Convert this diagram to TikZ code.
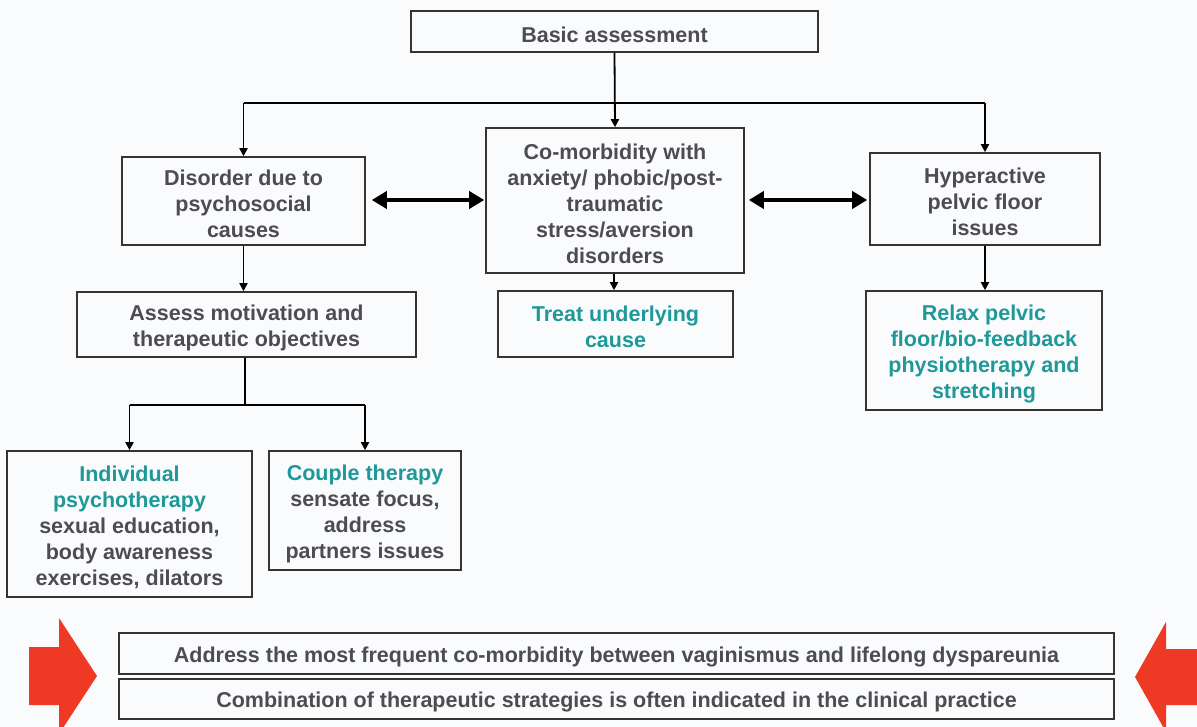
\documentclass[tikz,border=0pt]{standalone}
\usepackage{fontspec}
\setmainfont{Liberation Sans}
\usetikzlibrary{arrows.meta,calc}
\definecolor{inkgray}{RGB}{77,77,79}
\definecolor{tealtxt}{RGB}{30,152,152}
\definecolor{boxline}{RGB}{58,50,48}
\definecolor{bgpaper}{RGB}{250,251,253}
\definecolor{signred}{RGB}{238,58,36}
% tall strut on the first line drops the text block slightly in its box
\newcommand{\toprule}{\rule{0pt}{22pt}}
\tikzset{
  box/.style={draw=boxline, line width=1.6pt, align=center, inner sep=0pt,
    font=\fontsize{21.5}{26}\selectfont\bfseries, text=inkgray},
  teal box/.style={box, text=tealtxt},
  arr/.style={draw=black, line width=1.8pt, -{Triangle[length=8pt,width=8pt]}},
  link/.style={draw=black, line width=1.8pt},
  dbl/.style={draw=black, line width=4.5pt,
    {Triangle[length=15pt,width=17pt]}-{Triangle[length=15pt,width=17pt]}},
  redarrow/.style={fill=signred, draw=none}
}
\begin{document}
\begin{tikzpicture}[x=1pt,y=-1pt]
\fill[bgpaper] (0,0) rectangle (1197,727);
\useasboundingbox (0,0) rectangle (1197,727);

% boxes
\node[box, minimum width=407pt, minimum height=41pt] (basic) at (614.5,31.5) {\toprule Basic assessment};
\node[box, minimum width=243pt, minimum height=88pt] (disorder) at (243.5,201) {\toprule Disorder due to\\psychosocial\\causes};
\node[box, minimum width=258pt, minimum height=145pt] (comorb) at (615,200.5) {\toprule Co-morbidity with\\anxiety/ phobic/post-\\traumatic\\stress/aversion\\disorders};
\node[box, minimum width=230pt, minimum height=92pt] (hyper) at (985,199) {\toprule Hyperactive\\pelvic floor\\issues};
\node[box, minimum width=339pt, minimum height=65pt] (assess) at (246.5,324.5) {\toprule Assess motivation and\\therapeutic objectives};
\node[teal box, minimum width=235pt, minimum height=66pt] (treat) at (615.5,324) {\toprule Treat underlying\\cause};
\node[teal box, minimum width=236pt, minimum height=119pt] (relax) at (984,350.5) {\toprule Relax pelvic\\floor/bio-feedback\\physiotherapy and\\stretching};
\node[box, minimum width=245pt, minimum height=146pt] (indiv) at (129.5,524) {\toprule\textcolor{tealtxt}{Individual}\\\textcolor{tealtxt}{psychotherapy}\\sexual education,\\body awareness\\exercises, dilators};
\node[box, minimum width=192pt, minimum height=119pt] (couple) at (365,510.5) {\toprule\textcolor{tealtxt}{Couple therapy}\\sensate focus,\\address\\partners issues};
\node[box, minimum width=995pt, minimum height=41pt] (note1) at (616.5,653.5) {\toprule Address the most frequent co-morbidity between vaginismus and lifelong dyspareunia};
\node[box, minimum width=995pt, minimum height=40pt] (note2) at (616.5,699) {\toprule Combination of therapeutic strategies is often indicated in the clinical practice};

% top branching
\coordinate (hub) at (614,103);
\draw[arr] (basic.south) -- (comorb.north);
\draw[link] (hub -| disorder.north) -- (hub -| hyper.north);
\draw[arr] (hub -| disorder.north) -- (disorder.north);
\draw[arr] (hub -| hyper.north) -- (hyper.north);

% double-headed links
\draw[dbl, shorten <=6pt, shorten >=1pt] (disorder.east |- 0,200) -- (comorb.west |- 0,200);
\draw[dbl, shorten <=4pt, shorten >=2pt] (comorb.east |- 0,200) -- (hyper.west |- 0,200);

% second level
\draw[arr] (disorder.south) -- (disorder.south |- assess.north);
\draw[arr] (comorb.south -| 614,0) -- (treat.north -| 614,0);
\draw[arr] (hyper.south) -- (hyper.south |- relax.north);

% split to therapies
\coordinate (split) at (245,405);
\draw[link] (assess.south -| split) -- (split);
\draw[link] (split -| indiv.north) -- (split -| couple.north);
\draw[arr] (split -| indiv.north) -- (indiv.north);
\draw[arr] (split -| couple.north) -- (couple.north);

% red pointers
\fill[redarrow] (29,647) -- (59,647) -- (59,618) -- (97,676) -- (59,734) -- (59,705) -- (29,705) -- cycle;
\fill[redarrow] (1205,649) -- (1166,649) -- (1166,622) -- (1135,677) -- (1166,732) -- (1166,705) -- (1205,705) -- cycle;
\end{tikzpicture}
\end{document}
